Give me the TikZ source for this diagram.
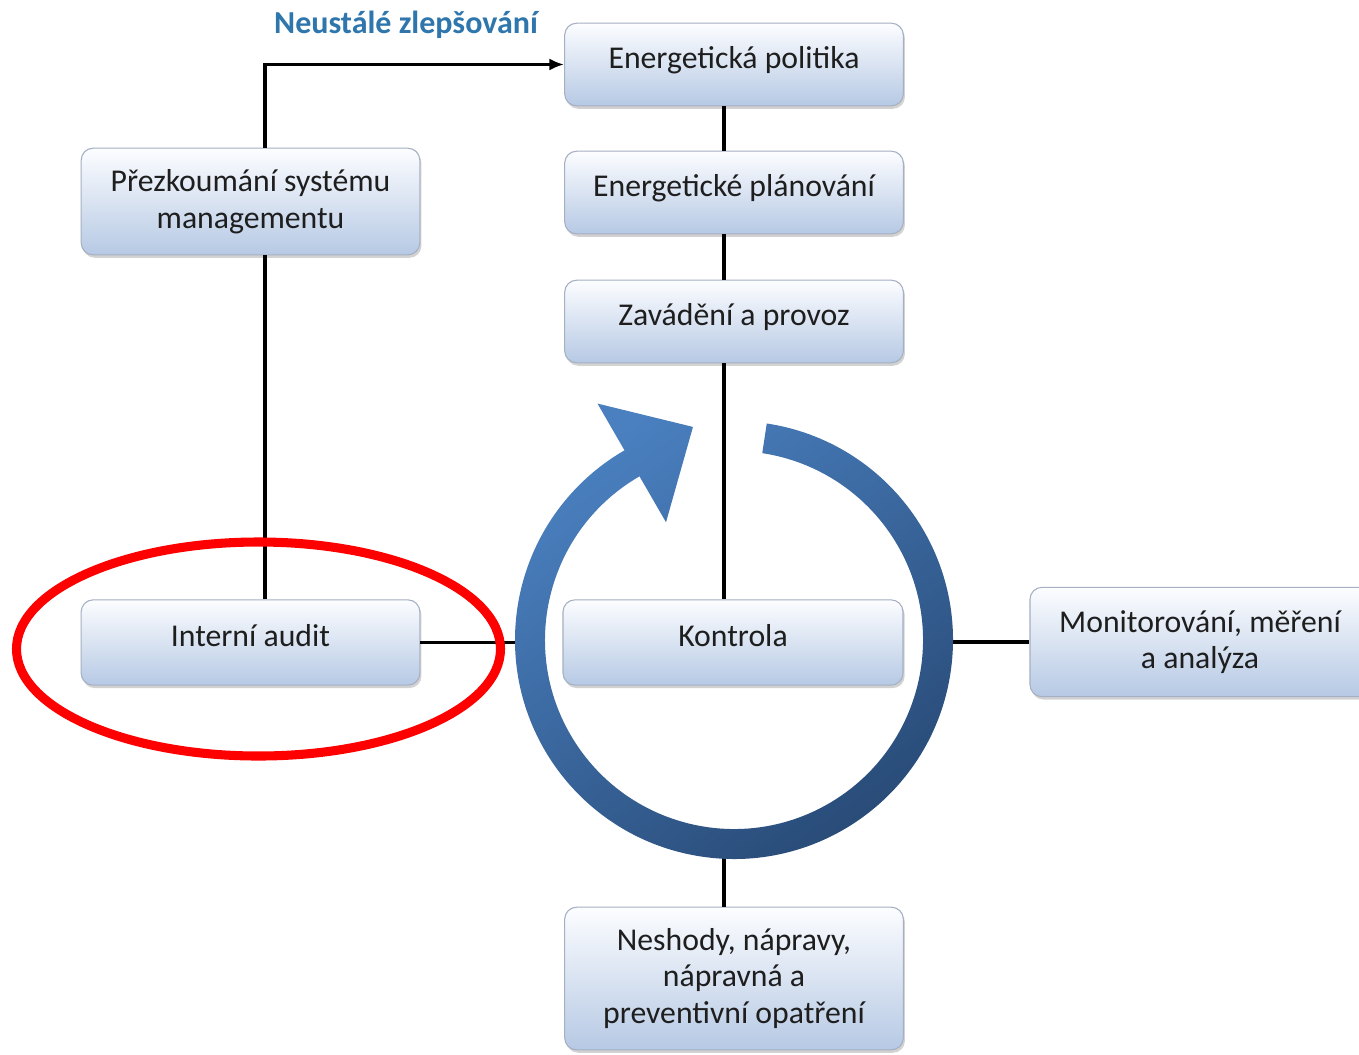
\documentclass[tikz,border=0pt]{standalone}
\usepackage{fontspec}
\setmainfont{Carlito}
\usetikzlibrary{shadows,arrows.meta,calc}
\definecolor{boxtop}{RGB}{252,253,255}
\definecolor{boxbot}{RGB}{182,201,228}
\definecolor{boxedge}{RGB}{165,176,195}
\definecolor{txt}{RGB}{30,30,30}
\definecolor{ttlcol}{RGB}{46,118,172}
\definecolor{ringlight}{RGB}{74,128,192}
\definecolor{ringdark}{RGB}{40,74,118}
\tikzset{
  procbox/.style={draw=boxedge, line width=0.8pt, rounded corners=9pt,
    top color=boxtop, bottom color=boxbot, text=txt, align=center,
    font=\fontsize{23.8}{27.5}\selectfont, inner sep=2pt,
    drop shadow={shadow xshift=1.2pt, shadow yshift=-2.2pt, opacity=0.35}},
  oneline/.style={text depth=10pt},
  conn/.style={draw=black, line width=2.6pt},
  titlelbl/.style={font=\fontsize{24}{28}\selectfont\bfseries, text=ttlcol}
}
\begin{document}
\begin{tikzpicture}[x=0.75pt,y=-0.75pt]
\useasboundingbox (0,0) rectangle (1359,1054);
\fill[white] (0,0) rectangle (1359,1054);

% nodes
\node[procbox, oneline, minimum width=254pt, minimum height=62pt] (pol) at (734,64.5) {Energetická politika};
\node[procbox, oneline, minimum width=254pt, minimum height=62pt] (plan) at (734,192.5) {Energetické plánování};
\node[procbox, oneline, minimum width=254pt, minimum height=62pt] (zav) at (734,321.5) {Zavádění a provoz};
\node[procbox, minimum width=254pt, minimum height=80pt] (prez) at (250.5,201.5) {Přezkoumání systému\\managementu};
\node[procbox, oneline, minimum width=254pt, minimum height=64pt] (audit) at (250.5,642.5) {Interní audit};
\node[procbox, oneline, minimum width=255pt, minimum height=64pt] (kon) at (733,642.5) {Kontrola};
\node[procbox, minimum width=255pt, minimum height=82pt] (mon) at (1200,642) {Monitorování, měření\\a analýza};
\node[procbox, minimum width=254pt, minimum height=107pt] (nes) at (734,978.5) {Neshody, nápravy,\\nápravná a\\preventivní opatření};
\node[titlelbl] (ttl) at (406,25) {Neustálé zlepšování};

% helper coordinates
\coordinate (vx) at (724,0);
\coordinate (lx) at (265,0);
\coordinate (c) at (734,640);

% connectors
\draw[conn] (pol.south -| vx) -- (plan.north -| vx);
\draw[conn] (plan.south -| vx) -- (zav.north -| vx);
\draw[conn] (zav.south -| vx) -- (kon.north -| vx);
\draw[conn] (prez.south -| lx) -- (audit.north -| lx);
\draw[conn, -{Latex[length=11pt,width=9pt]}] (prez.north -| lx) |- (pol.west);
\coordinate (rw) at (515,640);
\coordinate (re) at (953,640);
\coordinate (rs) at (724,858);
\draw[conn] (audit.east) -- (audit.east -| rw);
\draw[conn] (re |- mon.west) -- (mon.west);
\draw[conn] (rs) -- (nes.north -| rs);

% circular arrow
\shade[top color=ringlight, bottom color=ringdark, shading angle=35]
  (c) ++(-81.4:219) arc[start angle=-81.4, end angle=240, radius=219]
  -- ($(c)+(240:273)$) -- ($(c)+(259.1:217)$) -- ($(c)+(240:136)$)
  -- ($(c)+(240:189)$) arc[start angle=240, end angle=-81.4, radius=189] -- cycle;

% red highlight
\draw[red, line width=6.8pt] (258.5,649) ellipse [x radius=242, y radius=107];
\end{tikzpicture}
\end{document}
